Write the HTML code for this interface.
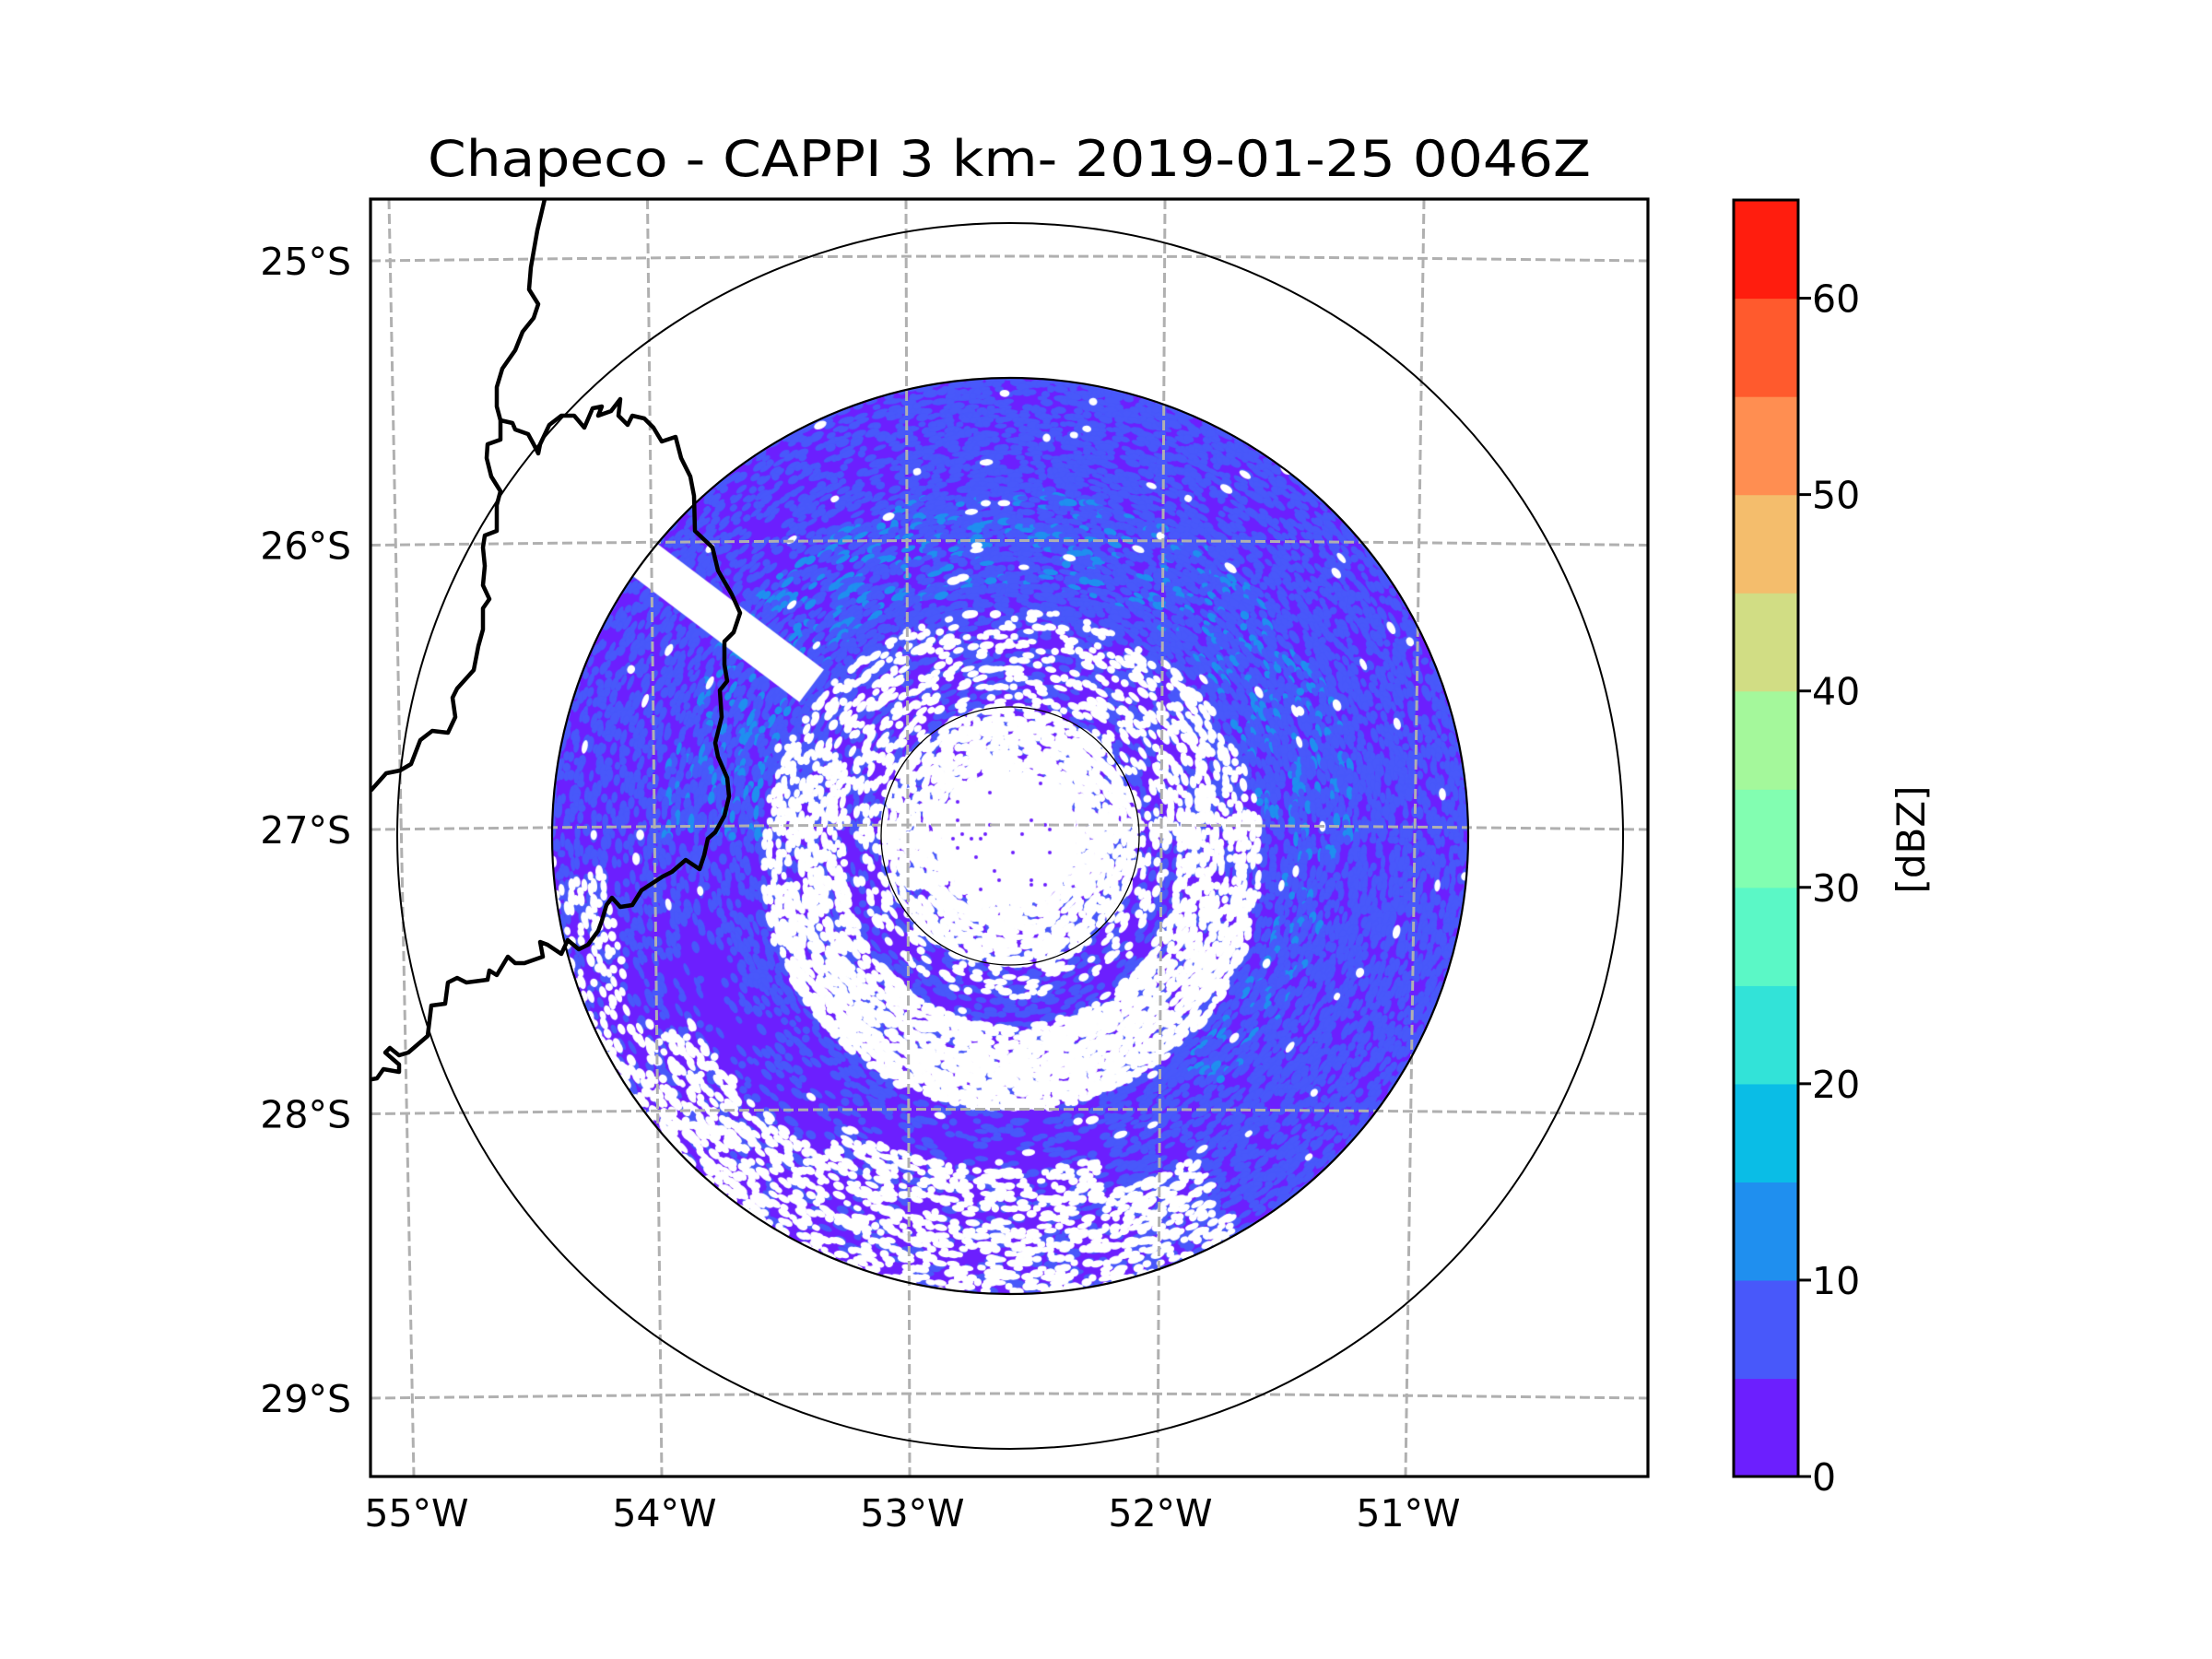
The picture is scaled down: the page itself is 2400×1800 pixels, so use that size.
<!DOCTYPE html>
<html><head><meta charset="utf-8"><title>Chapeco CAPPI</title>
<style>
html,body{margin:0;padding:0;background:#fff;}
#wrap{position:relative;width:2400px;height:1800px;overflow:hidden;background:#fff;}
#field{position:absolute;left:0;top:0;}
#fig{position:absolute;left:0;top:0;}
text{font-family:"DejaVu Sans","Liberation Sans",sans-serif;fill:#000;}
</style></head>
<body>
<div id="wrap">
<canvas id="field" width="2400" height="1800"></canvas>
<svg id="fig" width="2400" height="1800" viewBox="0 0 2400 1800" xmlns="http://www.w3.org/2000/svg">
  <defs><clipPath id="axclip"><rect x="402" y="216" width="1386" height="1386"/></clipPath></defs>
  <text x="1095" y="191" font-size="54" text-anchor="middle" textLength="1262" lengthAdjust="spacingAndGlyphs">Chapeco - CAPPI 3 km- 2019-01-25 0046Z</text>
  <g id="grid" clip-path="url(#axclip)"></g>
  <g clip-path="url(#axclip)">
    <circle cx="1096" cy="907" r="665" fill="none" stroke="#000" stroke-width="2"/>
    <circle cx="1096" cy="907" r="497" fill="none" stroke="#000" stroke-width="2.2"/>
    <circle cx="1096" cy="907" r="140" fill="none" stroke="#000" stroke-width="1.3"/>
    <polyline fill="none" stroke="#000" stroke-width="4.5" stroke-linejoin="round"
      points="591,216 583,250 576,290 574,314 584,330 579,345 567,360 559,380 545,400 539,420 539,441 543,456 543,477 529,482 528,497 533,517 543,533 539,548 539,576 526,581 524,594 526,614 524,635 531,650 524,660 524,683 519,701 514,727 496,747 491,757 494,778 486,795 469,793 456,803 446,829 434,836 419,839 403,857 398,860"/>
    <polyline fill="none" stroke="#000" stroke-width="4.5" stroke-linejoin="round"
      points="543,456 556,459 559,466 573,471 579,482 584,492 586,482 596,461 609,451 623,451 634,464 643,443 653,441 649,451 663,446 673,433 671,451 681,461 686,451 699,454 709,464 718,479 733,474 739,497 749,517 753,538 754,576 773,594 779,619 794,645 803,665 796,686 786,696 786,721 789,739 781,749 783,778 776,806 779,821 789,844 791,864 786,885 776,903 768,910 764,928 759,943 744,933 729,946 719,951 696,966 686,982 673,984 664,974 658,982 653,999 649,1010 638,1025 628,1030 616,1020 609,1035 594,1025 586,1022 589,1038 569,1045 559,1045 551,1038 539,1058 531,1053 529,1063 506,1066 496,1061 486,1066 483,1089 468,1091 464,1124 443,1142 433,1145 423,1137 418,1142 433,1155 433,1163 416,1160 409,1170 398,1172"/>
  </g>
  <rect x="402" y="216" width="1386" height="1386" fill="none" stroke="#000" stroke-width="3.2"/>
  <g id="latlabels"></g>
  <g id="lonlabels"></g>
  <g id="cbar"></g>
  <text x="0" y="0" font-size="42" text-anchor="middle" transform="translate(2088,911) rotate(-90)">[dBZ]</text>
</svg>
</div>
<script>
// ---- colorbar data ----
const levels = [0,5,10,15,20,25,30,35,40,45,50,55,60,65];
const levelColors = ['#6c1ffe','#4858fa','#1f8fef','#0abde6','#32e3d8','#5bf8c6','#82feb1','#a4f89b','#d1dd84','#f4bd6c','#ff8e51','#ff5a2d','#ff1d0e'];
const cbarTicks = [0,10,20,30,40,50,60];
// ---- map graticule data ----
const latTicks = ['25°S','26°S','27°S','28°S','29°S'];
const latValues = [-25,-26,-27,-28,-29];
const lonTicks = ['55°W','54°W','53°W','52°W','51°W'];
const lonValues = [-55,-54,-53,-52,-51];

const NS='http://www.w3.org/2000/svg';
function mk(tag,attrs,parent){const e=document.createElementNS(NS,tag);for(const k in attrs)e.setAttribute(k,attrs[k]);parent.appendChild(e);return e;}

function latY(lat,x){
  const y0 = 900 - (lat+27)*308.5;
  const t=(x-402)/1386; return y0 - 5*Math.sin(Math.PI*t);
}
function lonXTopF(lon){const d=lon+53;return 983+d*281+ (d<0? -d*0.5:0);}
function lonXBot(lon){const d=lon+53;return 987+d*269;}

const grid=document.getElementById('grid');
latValues.forEach((lat,i)=>{
  let d='';for(let k=0;k<=20;k++){const x=402+k*1386/20;d+=(k?'L':'M')+x.toFixed(1)+','+latY(lat,x).toFixed(1);}
  const p=mk('path',{d:d,fill:'none',stroke:'#b0b0b0','stroke-width':3,'stroke-dasharray':'11 5'},grid);
  
  
});
lonValues.forEach((lon,i)=>{
  const p=mk('line',{x1:lonXTopF(lon),y1:216,x2:lonXBot(lon),y2:1602,stroke:'#b0b0b0','stroke-width':3,'stroke-dasharray':'11 5'},grid);
  
  
});
const latG=document.getElementById('latlabels');
latValues.forEach((lat,i)=>{
  const t=mk('text',{x:381,y:latY(lat,402)+15,'font-size':41,'text-anchor':'end'},latG);
  t.textContent=latTicks[i];
  
  
});
const lonG=document.getElementById('lonlabels');
lonValues.forEach((lon,i)=>{
  const t=mk('text',{x:lonXBot(lon)+3,y:1656,'font-size':41,'text-anchor':'middle'},lonG);
  t.textContent=lonTicks[i];
  
  
});

const cb=document.getElementById('cbar');
const cbX=1881,cbW=70,cbTop=217,cbBot=1602;
function cbY(v){return cbBot-(v-levels[0])/(levels[levels.length-1]-levels[0])*(cbBot-cbTop);}
for(let i=0;i<levelColors.length;i++){
  const y1=cbY(levels[i+1]),y0=cbY(levels[i]);
  const r=mk('rect',{x:cbX,y:y1,width:cbW,height:y0-y1+0.6,fill:levelColors[i]},cb);
  
  
}
const fr=mk('rect',{x:cbX,y:cbTop,width:cbW,height:cbBot-cbTop,fill:'none',stroke:'#000','stroke-width':3},cb);


cbarTicks.forEach(v=>{
  const y=cbY(v);
  const l=mk('line',{x1:cbX+cbW,y1:y,x2:cbX+cbW+14,y2:y,stroke:'#000','stroke-width':3},cb);
  
  
  const t=mk('text',{x:1966,y:y+15,'font-size':41},cb);
  t.textContent=String(v);
  
  
});

// ---- radar field texture ----
(function(){
  const c=document.getElementById('field').getContext('2d');
  const cx=1096,cy=907,R=497;
  let s=123456789;
  function rnd(){s|=0;s=s+0x6D2B79F5|0;let t=Math.imul(s^s>>>15,1|s);t=t+Math.imul(t^t>>>7,61|t)^t;return((t^t>>>14)>>>0)/4294967296;}
  c.save();c.beginPath();c.arc(cx,cy,R,0,Math.PI*2);c.clip();
  c.fillStyle=levelColors[0];c.fillRect(cx-R,cy-R,2*R,2*R);
  const step=5;
  const cells=[];
  for(let y=cy-R;y<cy+R;y+=step)for(let x=cx-R;x<cx+R;x+=step){
    const dx=x-cx,dy=y-cy,r=Math.hypot(dx,dy);if(r>R+4)continue;cells.push([x,y,dx,dy,r]);
  }
  cells.forEach(([x,y,dx,dy,r])=>{
    const north=-dy/(r||1), east=dx/(r||1);
    let pb=0.22;
    if(north>0.2&&r>230)pb=0.45;
    if(east>0.3&&r>270)pb=0.42;
    if(east<-0.3&&r>280)pb=0.3;
    if(north<-0.3&&east<0.3&&r>330)pb=0.14;
    let pl=0;
    if(r>270&&r<380&&north>0)pl=0.1;
    if(r>300&&r<350&&east>0.6)pl=0.1;
    const u=rnd();let col=null;
    if(u<pl)col=levelColors[2];else if(u<pl+pb)col=levelColors[1];
    if(col){const a=Math.atan2(dy,dx)+Math.PI/2;c.fillStyle=col;c.beginPath();c.ellipse(x+rnd()*3,y+rnd()*3,4+rnd()*5,2.5+rnd()*2,a,0,Math.PI*2);c.fill();}
  });
  c.fillStyle='#fff';
  c.beginPath();c.arc(cx,cy+2,72,0,Math.PI*2);c.fill();
  cells.forEach(([x,y,dx,dy,r])=>{
    const ang=Math.atan2(dy,dx)*180/Math.PI;
    const down=dy/(r||1);
    const ry=Math.hypot(dx,dy-25);
    let pw=0.004;
    if(r<72)pw=0.95;
    else if(r<100)pw=0.75;
    else if(r<140)pw=0.6;
    else if(r<175)pw=0.2;
    if(ry>180&&ry<272)pw=Math.max(pw,0.45+0.25*down);
    if(r>400&&ang>60&&ang<150)pw=0.35;
    if(r>360&&ang>75&&ang<120)pw=0.35;
    if(r>440&&ang>=150&&ang<175)pw=0.18;
    if(rnd()<pw){const a=Math.atan2(dy,dx)+Math.PI/2;c.beginPath();c.ellipse(x+rnd()*2,y+rnd()*2,4+rnd()*4,3+rnd()*1.5,a,0,Math.PI*2);c.fill();}
  });
  c.fillStyle=levelColors[0];
  cells.forEach(([x,y,dx,dy,r])=>{ if(r<70&&rnd()<0.04){c.beginPath();c.arc(x,y,2,0,Math.PI*2);c.fill();}});
  // beam-blocked wedge (WNW)
  const th=-142.9*Math.PI/180, ux=Math.cos(th), uy=Math.sin(th);
  c.fillStyle='#fff';
  c.beginPath();
  const w=22, r0=270, r1=R+10;
  c.moveTo(cx+ux*r0-uy*w,cy+uy*r0+ux*w);
  c.lineTo(cx+ux*r1-uy*w,cy+uy*r1+ux*w);
  c.lineTo(cx+ux*r1+uy*w,cy+uy*r1-ux*w);
  c.lineTo(cx+ux*r0+uy*w,cy+uy*r0-ux*w);
  c.closePath();c.fill();
  c.restore();
})();
</script>
</body></html>
